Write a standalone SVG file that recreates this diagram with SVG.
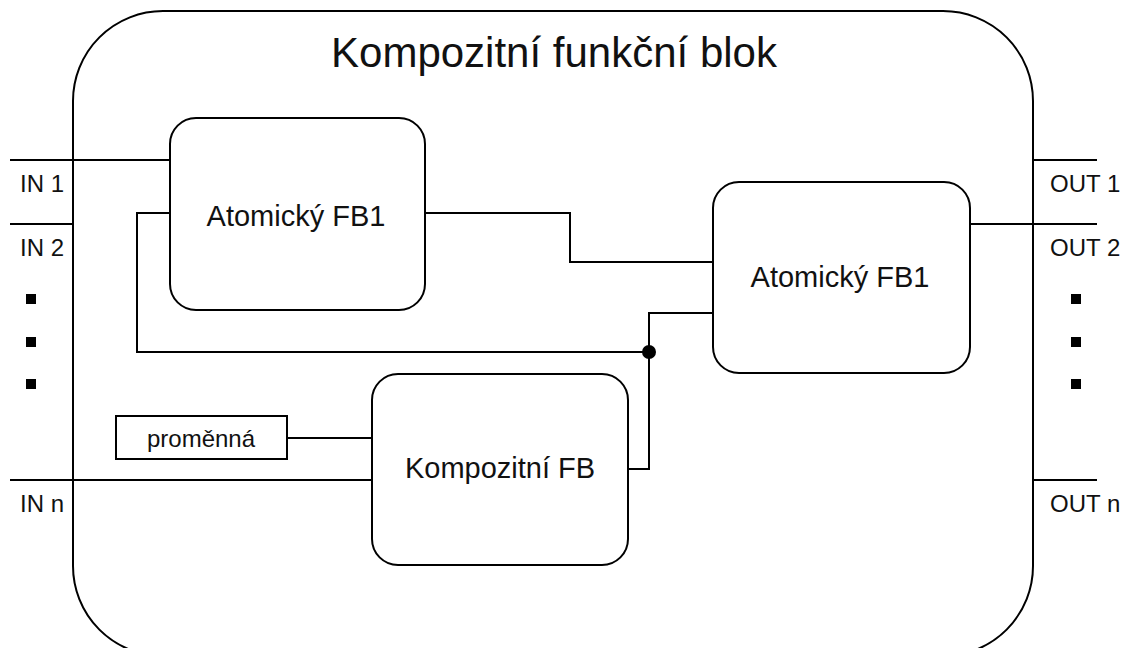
<svg xmlns="http://www.w3.org/2000/svg" width="1126" height="648" viewBox="0 0 1126 648">
<style>
.box{fill:#fff;stroke:#000;stroke-width:2}
.ln{fill:none;stroke:#000;stroke-width:2}
.t{font-family:"Liberation Sans",Arial,sans-serif;fill:#111}
.lbl{font-size:24px}
.node{font-size:29px;text-anchor:middle}
</style>
<rect width="1126" height="648" fill="#fff"/>
<g id="outer">
<rect class="box" x="73" y="11" width="960" height="645" rx="90" ry="90"/>
<text class="t" x="554" y="67" font-size="42" text-anchor="middle">Kompozitní funkční blok</text>
</g>
<g id="connectors">
<path class="ln" d="M10 160H170"/>
<path class="ln" d="M10 224H73"/>
<path class="ln" d="M10 480H372"/>
<path class="ln" d="M1033 160H1097"/>
<path class="ln" d="M970 224H1097"/>
<path class="ln" d="M1033 480H1097"/>
<path class="ln" d="M425 213H570V262H713"/>
<path class="ln" d="M170 213H137V352H649"/>
<path class="ln" d="M628 469H649V313H713"/>
<path class="ln" d="M287 438H372"/>
<circle cx="649" cy="352" r="7" fill="#000"/>
</g>
<g id="atomic1">
<rect class="box" x="170" y="118" width="255" height="192" rx="26"/>
<text class="t node" x="296" y="226">Atomický FB1</text>
</g>
<g id="atomic2">
<rect class="box" x="713" y="182" width="257" height="191" rx="26"/>
<text class="t node" x="840" y="287">Atomický FB1</text>
</g>
<g id="composite">
<rect class="box" x="372" y="374" width="256" height="191" rx="26"/>
<text class="t node" x="500" y="478">Kompozitní FB</text>
</g>
<g id="variable">
<rect class="box" x="116" y="416" width="171" height="43"/>
<text class="t" x="201" y="447" font-size="24" text-anchor="middle">proměnná</text>
</g>
<g id="inputs">
<text class="t lbl" x="20" y="192">IN 1</text>
<text class="t lbl" x="20" y="256">IN 2</text>
<text class="t lbl" x="20" y="512">IN n</text>
<rect x="26" y="294" width="10" height="10"/>
<rect x="26" y="337" width="10" height="10"/>
<rect x="26" y="379" width="10" height="10"/>
</g>
<g id="outputs">
<text class="t lbl" x="1050" y="192">OUT 1</text>
<text class="t lbl" x="1050" y="256">OUT 2</text>
<text class="t lbl" x="1050" y="512">OUT n</text>
<rect x="1071" y="294" width="10" height="10"/>
<rect x="1071" y="337" width="10" height="10"/>
<rect x="1071" y="379" width="10" height="10"/>
</g>
</svg>
